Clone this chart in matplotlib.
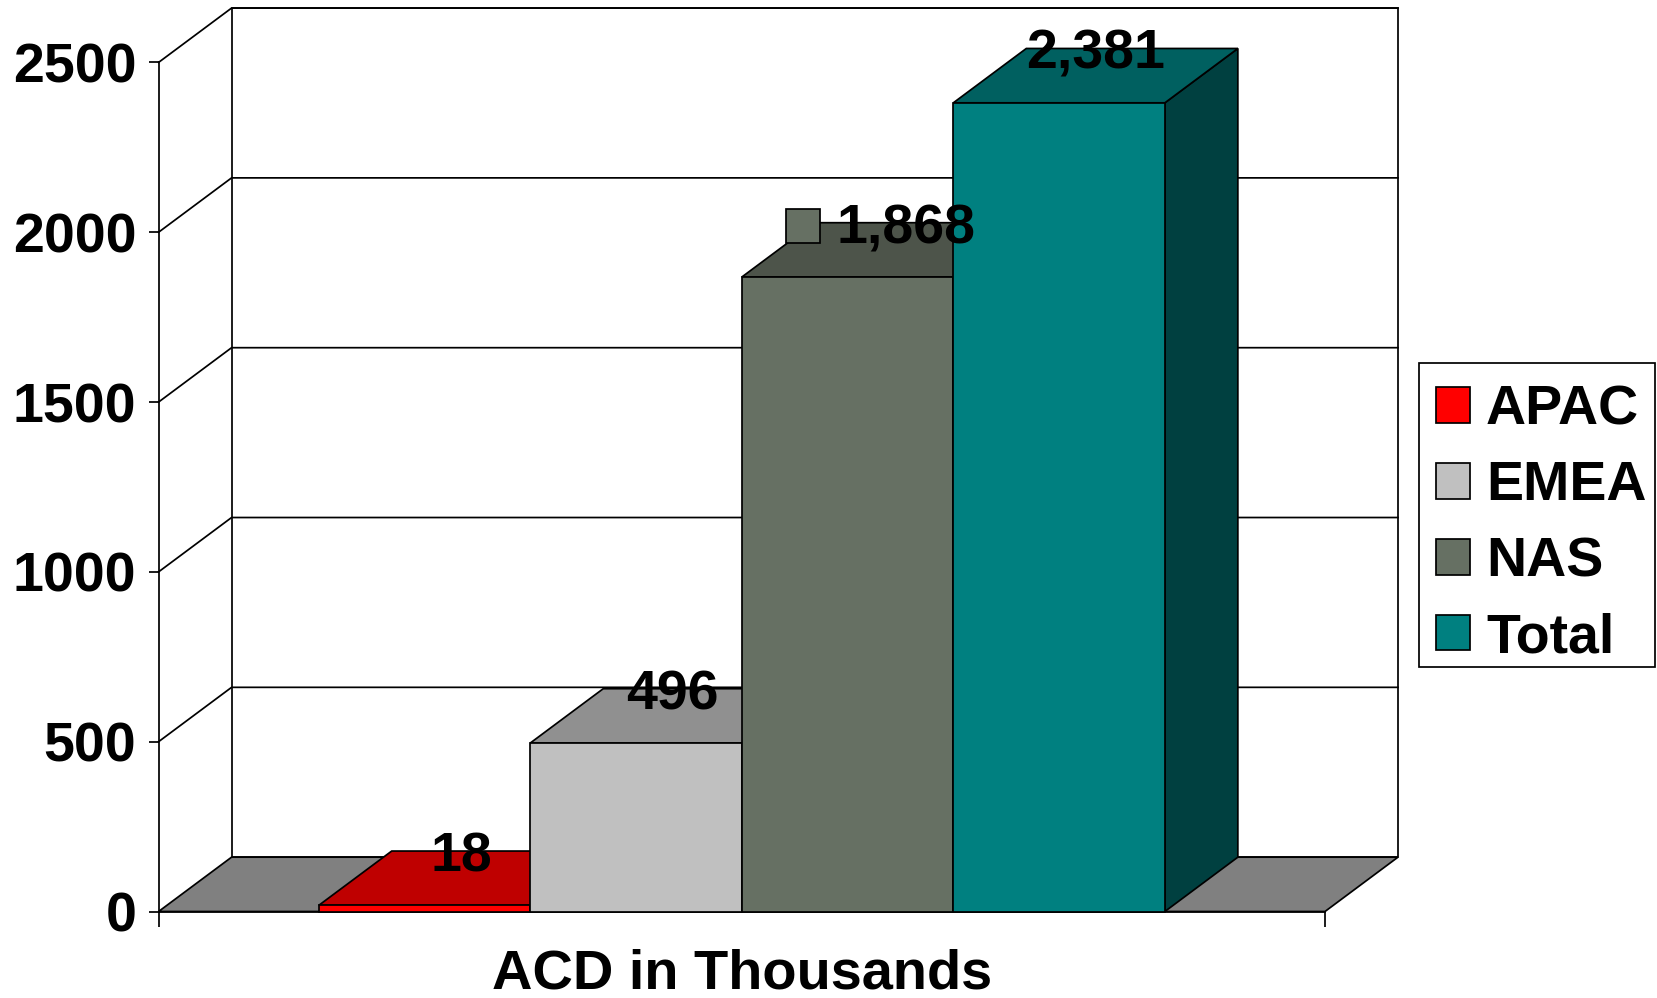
"""3D-look column chart of ACD by region, drawn on a plain 2D axes."""
import matplotlib

matplotlib.use("Agg")
import matplotlib.pyplot as plt  # noqa: E402
from matplotlib.patches import Rectangle  # noqa: E402

CATEGORIES = ["APAC", "EMEA", "NAS", "Total"]
VALUES = [18, 496, 1868, 2381]
VALUE_LABELS = ["18", "496", "1,868", "2,381"]
FRONT_COLORS = ["#ff0000", "#c0c0c0", "#667063", "#008080"]
TOP_COLORS = ["#bf0000", "#909090", "#4d544a", "#006060"]
SIDE_COLORS = ["#800000", "#606060", "#333832", "#004040"]
Y_TICKS = [0, 500, 1000, 1500, 2000, 2500]
X_LABEL = "ACD in Thousands"

# depth of the fake 3D box, in axis units
DX = 0.345
DY = 160
GAP = 0.757
LW = 1.25

plt.rcParams["font.family"] = ["Liberation Sans", "DejaVu Sans"]
plt.rcParams["font.weight"] = "bold"
plt.rcParams["font.size"] = 40

W, H = 1658, 998
fig = plt.figure(figsize=(W / 100, H / 100), dpi=100)
ax = fig.add_axes([158.6 / W, 1 - 911.5 / H, 1166.4 / W, 849.1 / H])
ax.patch.set_alpha(0)

xmin, xmax = -0.5 - GAP, 3.5 + GAP
ymax = Y_TICKS[-1]
ax.set_xlim(xmin, xmax)
ax.set_ylim(0, ymax)

for side in ("top", "right"):
    ax.spines[side].set_visible(False)
for side in ("left", "bottom"):
    ax.spines[side].set_linewidth(LW)

# back wall, floor and the grid lines running round the walls
ax.fill([xmin + DX, xmax + DX, xmax + DX, xmin + DX],
        [DY, DY, ymax + DY, ymax + DY],
        facecolor="white", edgecolor="black", lw=LW, clip_on=False, zorder=1)
ax.fill([xmin, xmax, xmax + DX, xmin + DX], [0, 0, DY, DY],
        facecolor="#808080", edgecolor="black", lw=LW, clip_on=False, zorder=2)
for v in Y_TICKS[1:]:
    ax.plot([xmin, xmin + DX, xmax + DX], [v, v + DY, v + DY],
            color="black", lw=LW, clip_on=False, zorder=1.5)

# columns, left to right so each one hides the side of the previous
for i, (name, v) in enumerate(zip(CATEGORIES, VALUES)):
    z = 3 + i
    left, right = i - 0.5, i + 0.5
    ax.fill([right, right + DX, right + DX, right], [0, DY, v + DY, v],
            facecolor=SIDE_COLORS[i], edgecolor="black", lw=LW,
            clip_on=False, zorder=z)
    ax.fill([left, right, right + DX, left + DX], [v, v, v + DY, v + DY],
            facecolor=TOP_COLORS[i], edgecolor="black", lw=LW,
            clip_on=False, zorder=z)
    ax.bar(i, v, width=1, color=FRONT_COLORS[i], edgecolor="black",
           linewidth=LW, label=name, clip_on=False, zorder=z + 0.5)

# value labels sit on the top faces
for i, (v, lab) in enumerate(zip(VALUES, VALUE_LABELS)):
    x = i + DX / 2
    if lab == "1,868":
        # this one carries its legend key
        x = i + 0.278
        ax.plot(i - 0.2125, v + 151, marker="s", ms=24.5, mfc=FRONT_COLORS[i],
                mec="black", mew=LW, clip_on=False, zorder=19)
    ax.text(x, v + 141, lab, ha="center", va="center", color="black",
            clip_on=False, zorder=20)

ax.set_yticks(Y_TICKS)
ax.set_yticklabels([str(v) for v in Y_TICKS], fontsize=40)
ax.set_xticks([xmin, xmax])
ax.set_xticklabels([])
ax.tick_params(axis="y", length=7, width=LW, pad=9)
ax.tick_params(axis="x", length=11, width=LW)
ax.set_xlabel(X_LABEL, fontweight="bold", fontsize=40.3, labelpad=12)

# legend frame is drawn apart since its padding is not even all round
sx, sy = 1 / 1568, 1 / 944
fig.add_artist(Rectangle((1342 * sx, 1 - 631 * sy), 223 * sx, 288 * sy,
                         transform=fig.transFigure, facecolor="white",
                         edgecolor="black", lw=LW, zorder=-1))
leg = ax.legend(loc="center left", bbox_to_anchor=(1358 * sx, 1 - 496 * sy),
                bbox_transform=fig.transFigure, fontsize=40, frameon=False,
                handlelength=0.61, handleheight=0.61, handletextpad=0.29,
                labelspacing=0.43, borderpad=0, borderaxespad=0)
leg.set_zorder(25)

fig.savefig("out.png", dpi=100)
